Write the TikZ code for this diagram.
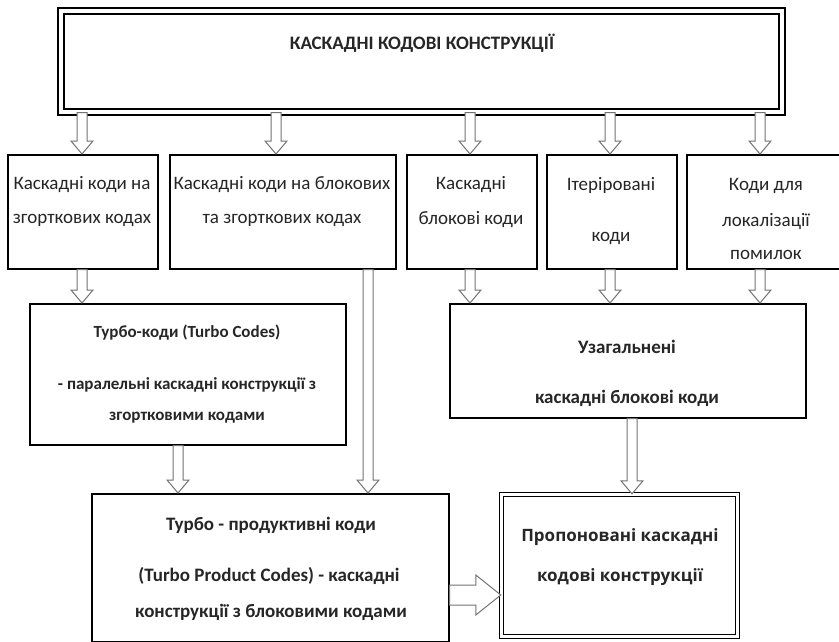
\documentclass[tikz,border=0pt]{standalone}
\usepackage{fontspec}
\setmainfont{Carlito}
\newfontfamily\propfont{Open Sans}
\usetikzlibrary{calc}
\tikzset{
  box/.style={draw=black, line width=1.6pt, fill=white, inner sep=0pt, anchor=north west},
  dbox/.style={draw=black, double=white, line width=1.4pt, inner sep=0pt},
  barrow/.style={draw=black!55, line width=1pt, fill=white, line join=miter},
  txt/.style={inner sep=0pt, font=\fontsize{19}{22}\selectfont, text=black!85},
  btxt/.style={txt, font=\fontsize{19}{22}\selectfont\bfseries},
  stxt/.style={txt, font=\fontsize{17}{20}\selectfont\bfseries},
  ptxt/.style={inner sep=0pt, font=\fontsize{17}{20}\selectfont\propfont\bfseries, text=black!85}
}
% vertical block arrow at x=#1 from bottom of #2 to top of #3
\newcommand\varrow[3]{%
  \draw[barrow] let \p1=(#2.south), \p2=(#3.north) in
    (#1pt-5pt,\y1) -- (#1pt-5pt,\y2+13pt) -- (#1pt-11pt,\y2+13pt) -- (#1pt,\y2)
    -- (#1pt+11pt,\y2+13pt) -- (#1pt+5pt,\y2+13pt) -- (#1pt+5pt,\y1) -- cycle;}
\begin{document}
\begin{tikzpicture}[x=1pt,y=-1pt]
\useasboundingbox (0,0) rectangle (839,641);
\clip (0,0) rectangle (839,641);
\fill[white] (0,0) rectangle (839,641);

% top box
\node[dbox, double distance=4.5pt, minimum width=721pt, minimum height=101pt] (top) at (421.5,61.5) {};
\node[btxt] (ttop) at (422,43) {КАСКАДНІ КОДОВІ КОНСТРУКЦІЇ};

% row 2
\node[box, minimum width=150pt, minimum height=114pt] (b1) at (7,154) {};
\node[box, minimum width=226pt, minimum height=114pt] (b2) at (169,154) {};
\node[box, minimum width=130pt, minimum height=114pt] (b3) at (406,154) {};
\node[box, minimum width=130pt, minimum height=114pt] (b4) at (546,154) {};
\node[box, minimum width=160pt, minimum height=114pt] (b5) at (686,154) {};

\node[txt] (t1a) at (82,185) {Каскадні коди на};
\node[txt] (t1b) at (82,220) {згорткових кодах};
\node[txt] (t2a) at (282,185) {Каскадні коди на блокових};
\node[txt] (t2b) at (282,220) {та згорткових кодах};
\node[txt] (t3a) at (471,185) {Каскадні};
\node[txt] (t3b) at (471,220) {блокові коди};
\node[txt] (t4a) at (611,185) {Ітеріровані};
\node[txt] (t4b) at (611,238) {коди};
\node[txt] (t5a) at (766,186) {Коди для};
\node[txt] (t5b) at (766,222) {локалізації};
\node[txt] (t5c) at (766,255) {помилок};

% row 3
\node[box, minimum width=316pt, minimum height=141pt] (turbo) at (29,303) {};
\node[box, minimum width=356pt, minimum height=114pt] (gen) at (449,303) {};

\node[stxt] (tu1) at (187,333) {Турбо-коди (Turbo Codes)};
\node[stxt] (tu2) at (187,385) {- паралельні каскадні конструкції з};
\node[stxt] (tu3) at (187,418) {згортковими кодами};
\node[btxt] (g1) at (627,347) {Узагальнені};
\node[btxt] (g2) at (627,398) {каскадні блокові коди};

% row 4
\node[box, minimum width=357pt, minimum height=148pt] (tpc) at (91,493) {};
\node[dbox, double distance=2.5pt, minimum width=236pt, minimum height=142pt] (prop) at (619.5,565.5) {};

\node[btxt] (p1) at (271,525) {Турбо - продуктивні коди};
\node[btxt] (p2) at (269,576) {(Turbo Product Codes) - каскадні};
\node[btxt] (p3) at (271,612) {конструкції з блоковими кодами};
\node[ptxt] (q1) at (620,537) {Пропоновані каскадні};
\node[ptxt] (q2) at (620,577) {кодові конструкції};

% arrows
\varrow{82}{top}{b1}
\varrow{276}{top}{b2}
\varrow{470}{top}{b3}
\varrow{610}{top}{b4}
\varrow{760}{top}{b5}
\varrow{82}{b1}{turbo}
\varrow{368}{b2}{tpc}
\varrow{470}{b3}{gen}
\varrow{610}{b4}{gen}
\varrow{760}{b5}{gen}
\varrow{178}{turbo}{tpc}
\varrow{632}{gen}{prop}
\draw[barrow] let \p1=(tpc.east), \p2=(prop.west) in
  (\x1,-585pt) -- (\x2-25pt,-585pt) -- (\x2-25pt,-575pt) -- (\x2,-595pt)
  -- (\x2-25pt,-615pt) -- (\x2-25pt,-605pt) -- (\x1,-605pt) -- cycle;
\end{tikzpicture}
\end{document}
